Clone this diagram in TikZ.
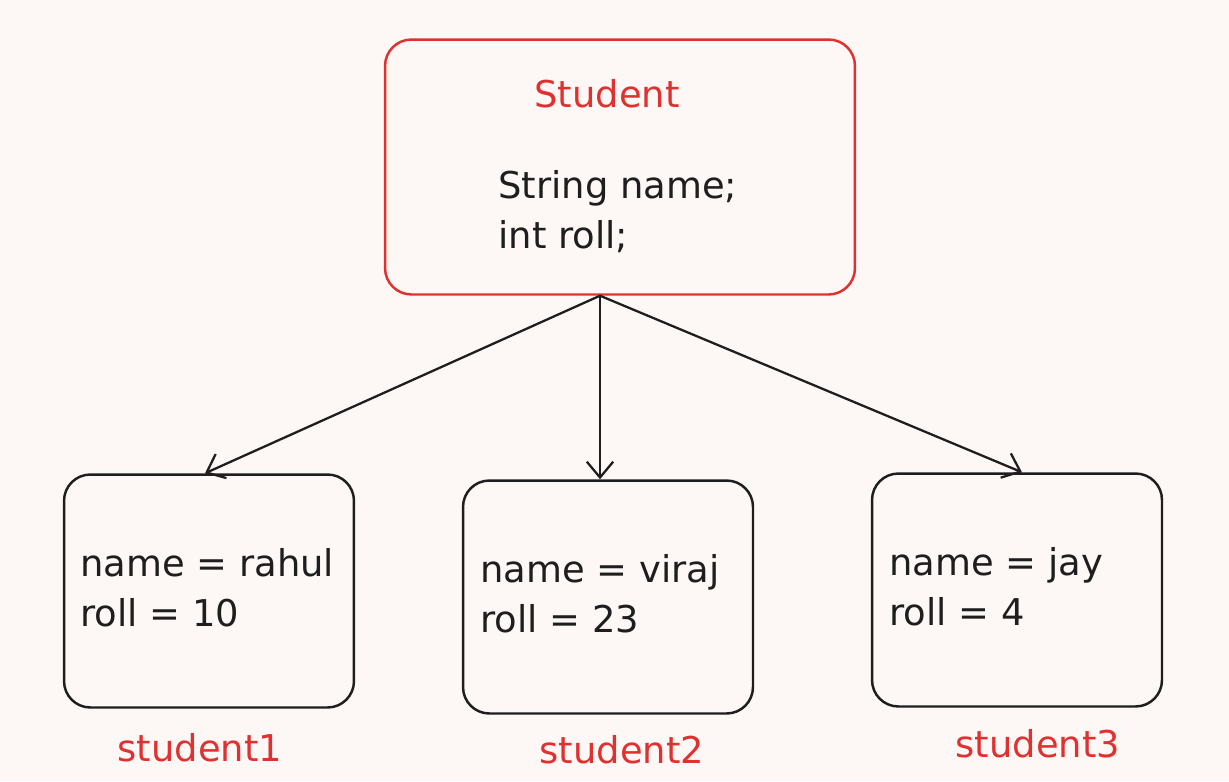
\documentclass[tikz,border=0pt]{standalone}
\usepackage{fontspec}
\setmainfont{DejaVu Sans}
\usetikzlibrary{arrows.meta,positioning}
\definecolor{paper}{HTML}{FDF8F6}
\definecolor{ink}{HTML}{1E1E1E}
\definecolor{redink}{HTML}{E03131}

\begin{document}
\begin{tikzpicture}[x=0.02cm, y=-0.02cm,
    box/.style = {draw=ink, line width=1.4pt, rounded corners=15pt, minimum width=5.8cm, minimum height=4.66cm},
    classbox/.style = {box, draw=redink, minimum width=9.4cm, minimum height=5.1cm},
    code/.style = {text=ink, font=\fontsize{21}{28}\selectfont, align=left, inner sep=0pt},
    title/.style = {text=redink, font=\fontsize{21}{28}\selectfont, inner sep=0pt},
    link/.style = {ink, line width=1.3pt, -{Straight Barb[length=9pt, width=15pt]}}]
    \fill[paper] (0,0) rectangle (1229,781);
    \useasboundingbox (0,0) rectangle (1229,781);

    \node[classbox] (Student) at (620,167) {};
    \node[title, anchor=base] (StudentTitle) at (607,107) {Student};
    % base of a two-line node sits on its last line
    \node[code, anchor=base west] (StudentCode) at (498,248) {String name;\\int roll;};

    \node[box] (s1) at (209,591) {};
    \node[box] (s2) at (608,597) {};
    \node[box] (s3) at (1017,590) {};

    \node[code, anchor=base west] (s1Code) at (80,626) {name = rahul\\roll = 10};
    \node[code, anchor=base west] (s2Code) at (480,632) {name = viraj\\roll = 23};
    \node[code, anchor=base west] (s3Code) at (889,625) {name = jay\\roll = 4};

    \node[title, anchor=base] (s1Name) at (200,761) {student1};
    \node[title, anchor=base] (s2Name) at (622,763) {student2};
    \node[title, anchor=base] (s3Name) at (1038,757) {student3};

    \draw[link] (Student.south -| 600,0) -- (s1.north -| 205,0);
    \draw[link] (Student.south -| 600,0) -- (s2.north -| 600,0);
    \draw[link] (Student.south -| 600,0) -- (s3.north -| 1022,0);
\end{tikzpicture}
\end{document}
